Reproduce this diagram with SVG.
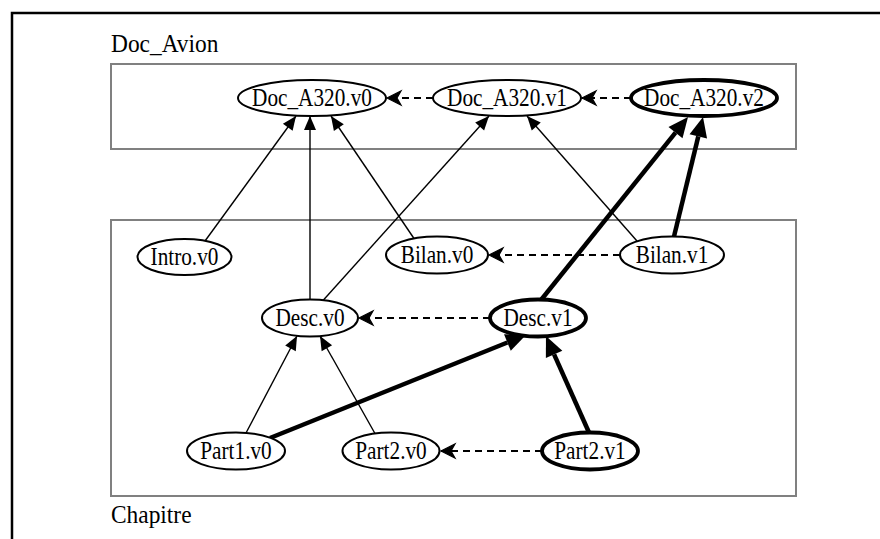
<svg xmlns="http://www.w3.org/2000/svg" width="880" height="539" viewBox="0 0 880 539">
<style>
.frame{fill:none;stroke:#000;stroke-width:2.5}
.cluster{fill:none;stroke:#808080;stroke-width:2}
.clabel{font-family:"Liberation Serif","Times New Roman",serif;font-size:26px;fill:#000}
.node ellipse{fill:#fff;stroke:#000;stroke-width:2}
.node.bold ellipse{stroke-width:3.8}
.node text{font-family:"Liberation Serif","Times New Roman",serif;font-size:25px;fill:#000;text-anchor:middle}
.e{fill:none;stroke:#000;stroke-width:1.4}
.eb{fill:none;stroke:#000;stroke-width:4.5}
.ed{fill:none;stroke:#000;stroke-width:2.2;stroke-dasharray:7,5}
</style>
<defs>
<marker id="a" markerUnits="userSpaceOnUse" orient="auto" markerWidth="20" markerHeight="20" refX="0" refY="0" overflow="visible">
<path d="M0,0 L-14,-6 L-14,6 Z" fill="#000"/>
</marker>
<marker id="ab" markerUnits="userSpaceOnUse" orient="auto" markerWidth="30" markerHeight="30" refX="0" refY="0" overflow="visible">
<path d="M20,0 L0,-9 L0,9 Z" fill="#000"/>
</marker>
<marker id="ad" markerUnits="userSpaceOnUse" orient="auto" markerWidth="20" markerHeight="20" refX="0" refY="0" overflow="visible">
<path d="M0,0 L-14,-7 L-10,0 L-14,7 Z" fill="#000" stroke="#000" stroke-width="1.2"/>
</marker>
</defs>
<path class="frame" d="M12,539 V13 H880"/>
<g id="cluster_Doc_Avion">
<rect class="cluster" x="111" y="64" width="685" height="85"/>
<text class="clabel" transform="translate(111,52) scale(0.9,1)">Doc_Avion</text>
</g>
<g id="cluster_Chapitre">
<rect class="cluster" x="111" y="220" width="685" height="276"/>
<text class="clabel" transform="translate(111,523) scale(0.9,1)">Chapitre</text>
</g>
<g id="edges">
<line class="e" x1="205" y1="241" x2="296" y2="116" marker-end="url(#a)"/>
<line class="e" x1="310" y1="300" x2="310" y2="116" marker-end="url(#a)"/>
<line class="e" x1="414" y1="238.5" x2="331" y2="116" marker-end="url(#a)"/>
<line class="e" x1="323" y1="300.5" x2="489" y2="116" marker-end="url(#a)"/>
<line class="e" x1="637" y1="241" x2="527" y2="116" marker-end="url(#a)"/>
<line class="eb" x1="541" y1="300" x2="675.5" y2="132.6" marker-end="url(#ab)"/>
<line class="eb" x1="674" y1="236.5" x2="698.3" y2="136.4" marker-end="url(#ab)"/>
<line class="ed" x1="433" y1="98" x2="387" y2="98" marker-end="url(#ad)"/>
<line class="ed" x1="631" y1="98" x2="582" y2="98" marker-end="url(#ad)"/>
<line class="ed" x1="620" y1="255" x2="489" y2="255" marker-end="url(#ad)"/>
<line class="ed" x1="490" y1="318" x2="359" y2="318" marker-end="url(#ad)"/>
<line class="e" x1="246" y1="433" x2="297" y2="336" marker-end="url(#a)"/>
<line class="e" x1="375" y1="433.5" x2="320" y2="336" marker-end="url(#a)"/>
<line class="eb" x1="270" y1="438" x2="507.4" y2="342.5" marker-end="url(#ab)"/>
<line class="eb" x1="589" y1="432.5" x2="554.1" y2="354.3" marker-end="url(#ab)"/>
<line class="ed" x1="542" y1="451" x2="441" y2="451" marker-end="url(#ad)"/>
</g>
<g id="Doc_A320.v0" class="node"><ellipse cx="312" cy="98" rx="74" ry="18"/><text transform="translate(312,106) scale(0.85,1)">Doc_A320.v0</text></g>
<g id="Doc_A320.v1" class="node"><ellipse cx="507" cy="98" rx="74" ry="18"/><text transform="translate(507,106) scale(0.85,1)">Doc_A320.v1</text></g>
<g id="Doc_A320.v2" class="node bold"><ellipse cx="704" cy="98" rx="73" ry="18"/><text transform="translate(704,106) scale(0.85,1)">Doc_A320.v2</text></g>
<g id="Intro.v0" class="node"><ellipse cx="184.5" cy="257" rx="47" ry="18"/><text transform="translate(184.5,265) scale(0.85,1)">Intro.v0</text></g>
<g id="Bilan.v0" class="node"><ellipse cx="437" cy="255" rx="51" ry="18.5"/><text transform="translate(437,263) scale(0.85,1)">Bilan.v0</text></g>
<g id="Bilan.v1" class="node"><ellipse cx="672" cy="255" rx="52" ry="18.5"/><text transform="translate(672,263) scale(0.85,1)">Bilan.v1</text></g>
<g id="Desc.v0" class="node"><ellipse cx="310" cy="318" rx="48" ry="18.5"/><text transform="translate(310,326) scale(0.85,1)">Desc.v0</text></g>
<g id="Desc.v1" class="node bold"><ellipse cx="538" cy="318" rx="48" ry="18.5"/><text transform="translate(538,326) scale(0.85,1)">Desc.v1</text></g>
<g id="Part1.v0" class="node"><ellipse cx="236" cy="451" rx="49" ry="18.5"/><text transform="translate(236,459) scale(0.85,1)">Part1.v0</text></g>
<g id="Part2.v0" class="node"><ellipse cx="391" cy="451" rx="48.5" ry="18.5"/><text transform="translate(391,459) scale(0.85,1)">Part2.v0</text></g>
<g id="Part2.v1" class="node bold"><ellipse cx="590" cy="451" rx="48" ry="18.5"/><text transform="translate(590,459) scale(0.85,1)">Part2.v1</text></g>
</svg>
